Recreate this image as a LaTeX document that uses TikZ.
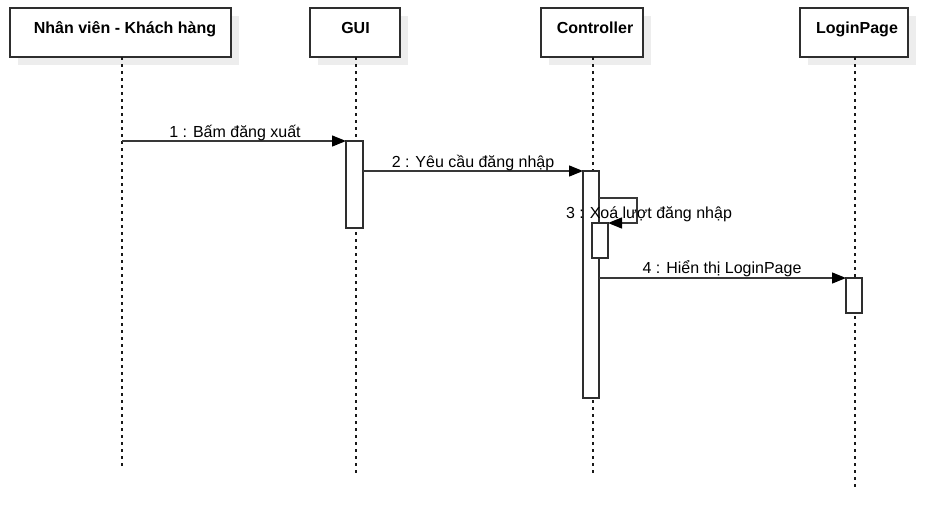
\documentclass[tikz,border=0pt]{standalone}
\usepackage{fontspec}
\setmainfont{Liberation Sans}
\usetikzlibrary{arrows.meta,shadows}
\begin{document}
\begin{tikzpicture}[x=1pt,y=-1pt,
  head/.style={draw=black!82, line width=1.3pt, fill=white, inner sep=0pt, outer sep=0pt,
    minimum height=49pt,
    drop shadow={shadow xshift=8pt, shadow yshift=-8pt, fill=black!7, opacity=1}},
  headtext/.style={anchor=base, inner sep=0pt, font=\fontsize{16}{18}\selectfont\bfseries},
  lifeline/.style={draw=black!90, line width=1.2pt, dash pattern=on 3pt off 4pt},
  act/.style={draw=black!82, line width=1.3pt, fill=white, inner sep=0pt, outer sep=0pt, minimum width=16pt},
  msg/.style={draw=black!78, line width=1.3pt, -{Triangle[length=14pt,width=11pt,color=black]}},
  msgtext/.style={anchor=base, inner sep=0pt, font=\fontsize{16}{18}\selectfont}
]
\useasboundingbox (0,0) rectangle (939,515);

% header boxes
\node[head, minimum width=221pt] (h1) at (120.5,32.5) {};
\node[head, minimum width=90pt]  (h2) at (355,32.5) {};
\node[head, minimum width=102pt] (h3) at (592,32.5) {};
\node[head, minimum width=108pt] (h4) at (854,32.5) {};
\node[headtext] (t1) at (125,33) {Nhân viên - Khách hàng};
\node[headtext] (t2) at (355.5,33) {GUI};
\node[headtext] (t3) at (595,33) {Controller};
\node[headtext] (t4) at (857,33) {LoginPage};

% lifeline ends
\coordinate (e1) at (122,466);
\coordinate (e2) at (356,474);
\coordinate (e3) at (593,475);
\coordinate (e4) at (855,489);
\draw[lifeline] (h1.south -| e1) -- (e1);
\draw[lifeline] (h2.south -| e2) -- (e2);
\draw[lifeline] (h3.south -| e3) -- (e3);
\draw[lifeline] (h4.south -| e4) -- (e4);

% activations
\node[act, minimum width=17pt, minimum height=87pt] (a2) at (354.5,184.5) {};
\node[act, minimum height=227pt] (a3) at (591,284.5) {};
\node[act, minimum height=35pt] (a3b) at (600,240.5) {};
\node[act, minimum height=35pt] (a4) at (854,295.5) {};

% messages
\coordinate (m1s) at (122,141);
\draw[msg] (m1s) -- (a2.north west);
\node[msgtext] (l1) at (235,137) {1 : Bấm đăng xuất};

\draw[msg] (a2.east |- a3.north) -- (a3.north west);
\node[msgtext] (l2) at (473,167) {2 : Yêu cầu đăng nhập};

\coordinate (m3s) at (599,198);
\draw[msg] (m3s) -- ++(38,0) |- (a3b.north east);
\node[msgtext] (l3) at (649,218) {3 : Xoá lượt đăng nhập};

\draw[msg] (a3.east |- a4.north) -- (a4.north west);
\node[msgtext] (l4) at (722,273) {4 : Hiển thị LoginPage};
\end{tikzpicture}
\end{document}
